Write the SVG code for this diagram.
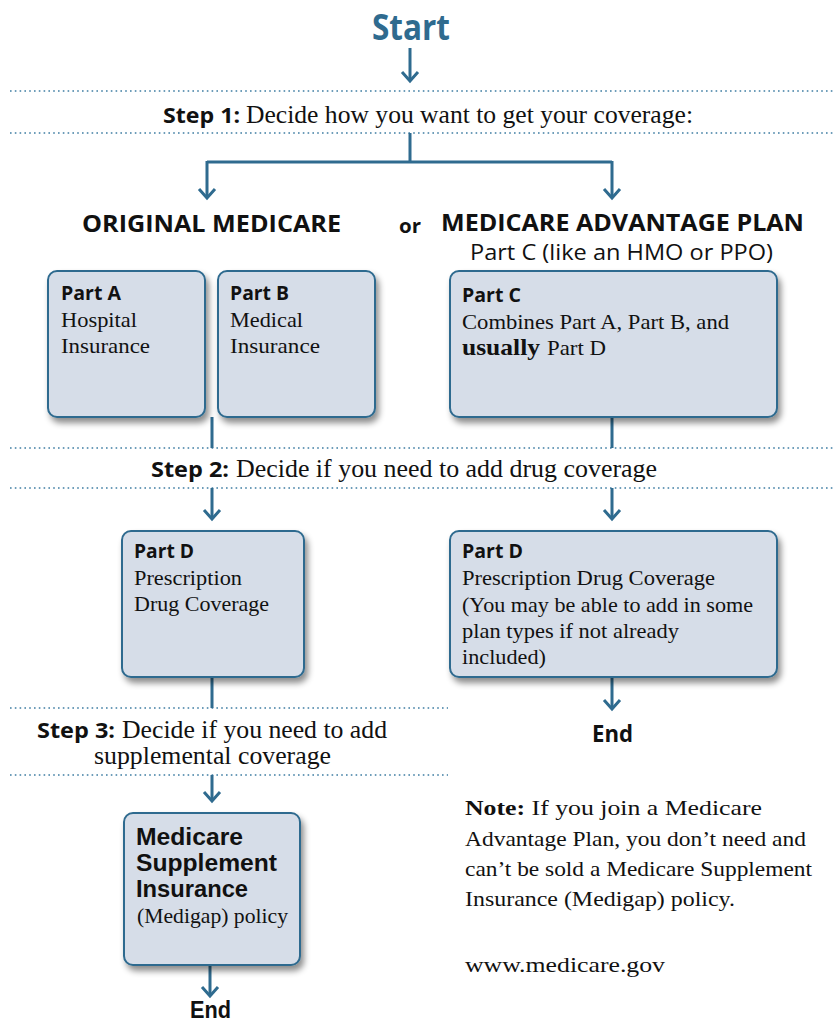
<svg xmlns="http://www.w3.org/2000/svg" width="835" height="1023" viewBox="0 0 835 1023">
<defs>
<filter id="sh" x="-10%" y="-10%" width="130%" height="130%">
<feDropShadow dx="3" dy="5" stdDeviation="3" flood-color="#000" flood-opacity="0.45"/>
</filter>
<style>
.box{fill:#d6dde8;stroke:#2f6b8f;stroke-width:2;filter:url(#sh)}
.ln{fill:none;stroke:#2f6b8f;stroke-width:3}
.ah{fill:none;stroke:#2f6b8f;stroke-width:3;stroke-linejoin:miter}
.dot{stroke:#3f7ea3;stroke-width:1.6;stroke-dasharray:1.6 3.2}
.sb{font-family:"Open Sans","Liberation Sans",sans-serif;font-weight:bold;fill:#111}
.lb{font-family:"Liberation Sans",Arial,sans-serif;font-weight:bold;fill:#111}
.sr{font-family:"Open Sans","Liberation Sans",sans-serif;fill:#111}
.se{font-family:"Liberation Serif",serif;fill:#111}
.h{font-size:19px}
.b{font-size:22px}
.st{font-size:22px}
.sd{font-size:25px}
</style>
</defs>
<rect width="835" height="1023" fill="#fff"/>

<g id="start"><text x="372" y="40" textLength="78" lengthAdjust="spacingAndGlyphs" class="sb" style="fill:#2f6b8f;font-size:35px">Start</text></g>

<g id="dividers">
<line class="dot" x1="10" y1="91" x2="835" y2="91"/>
<line class="dot" x1="10" y1="133" x2="835" y2="133"/>
<line class="dot" x1="10" y1="448" x2="835" y2="448"/>
<line class="dot" x1="10" y1="488" x2="835" y2="488"/>
<line class="dot" x1="10" y1="708" x2="448" y2="708"/>
<line class="dot" x1="10" y1="775" x2="448" y2="775"/>
</g>

<g id="step1">
<text x="163" y="123" textLength="77" lengthAdjust="spacingAndGlyphs" class="sb st">Step 1:</text>
<text x="246" y="123" textLength="447" lengthAdjust="spacingAndGlyphs" class="se sd">Decide how you want to get your coverage:</text>
</g>

<g id="connectors">
<path class="ln" d="M410 48V81"/><path class="ah" d="M402 72L410 81L418 72"/>
<path class="ln" d="M410 133V162M207 162H612M207 161V198M612 161V198"/>
<path class="ah" d="M199 189L207 198L215 189"/><path class="ah" d="M604 189L612 198L620 189"/>
<path class="ln" d="M212 417V448M212 488V519"/><path class="ah" d="M204 510L212 519L220 510"/>
<path class="ln" d="M612 417V448M612 488V519"/><path class="ah" d="M604 510L612 519L620 510"/>
<path class="ln" d="M212 677V708M212 775V801"/><path class="ah" d="M204 792L212 801L220 792"/>
<path class="ln" d="M612 677V709"/><path class="ah" d="M604 700L612 709L620 700"/>
<path class="ln" d="M210 965V996"/><path class="ah" d="M202 987L210 996L218 987"/>
</g>

<g id="orig"><text x="82" y="232" textLength="259" lengthAdjust="spacingAndGlyphs" class="sb" font-size="23">ORIGINAL MEDICARE</text></g>
<g id="or"><text x="399" y="233" textLength="22" lengthAdjust="spacingAndGlyphs" class="sb" font-size="20">or</text></g>
<g id="ma"><text x="441" y="231" textLength="363" lengthAdjust="spacingAndGlyphs" class="sb" font-size="23">MEDICARE ADVANTAGE PLAN</text>
<text x="470" y="260" textLength="303" lengthAdjust="spacingAndGlyphs" class="sr" font-size="22">Part C (like an HMO or PPO)</text></g>

<g id="partA"><rect class="box" x="48" y="271" width="157" height="146" rx="9"/>
<text x="61" y="300" textLength="60" lengthAdjust="spacingAndGlyphs" class="sb h">Part A</text>
<text x="61" y="327" textLength="76" lengthAdjust="spacingAndGlyphs" class="se b">Hospital</text>
<text x="61" y="353" textLength="89" lengthAdjust="spacingAndGlyphs" class="se b">Insurance</text></g>

<g id="partB"><rect class="box" x="218" y="271" width="157" height="146" rx="9"/>
<text x="230" y="300" textLength="59" lengthAdjust="spacingAndGlyphs" class="sb h">Part B</text>
<text x="230" y="327" textLength="73" lengthAdjust="spacingAndGlyphs" class="se b">Medical</text>
<text x="230" y="353" textLength="90" lengthAdjust="spacingAndGlyphs" class="se b">Insurance</text></g>

<g id="partC"><rect class="box" x="450" y="271" width="327" height="146" rx="9"/>
<text x="462" y="302" textLength="59" lengthAdjust="spacingAndGlyphs" class="sb h">Part C</text>
<text x="462" y="329" textLength="267" lengthAdjust="spacingAndGlyphs" class="se b">Combines Part A, Part B, and</text>
<text x="462" y="355" textLength="78" lengthAdjust="spacingAndGlyphs" class="se" font-size="24" font-weight="bold">usually</text>
<text x="547" y="355" textLength="59" lengthAdjust="spacingAndGlyphs" class="se b">Part D</text></g>

<g id="step2">
<text x="151" y="477" textLength="78" lengthAdjust="spacingAndGlyphs" class="sb st">Step 2:</text>
<text x="236" y="477" textLength="421" lengthAdjust="spacingAndGlyphs" class="se sd">Decide if you need to add drug coverage</text>
</g>

<g id="partD1"><rect class="box" x="122" y="531" width="182" height="146" rx="9"/>
<text x="134" y="558" textLength="60" lengthAdjust="spacingAndGlyphs" class="sb h">Part D</text>
<text x="134" y="585" textLength="108" lengthAdjust="spacingAndGlyphs" class="se b">Prescription</text>
<text x="134" y="611" textLength="135" lengthAdjust="spacingAndGlyphs" class="se b">Drug Coverage</text></g>

<g id="partD2"><rect class="box" x="450" y="531" width="327" height="146" rx="9"/>
<text x="462" y="558" textLength="61" lengthAdjust="spacingAndGlyphs" class="sb h">Part D</text>
<text x="462" y="585" textLength="253" lengthAdjust="spacingAndGlyphs" class="se b">Prescription Drug Coverage</text>
<text x="462" y="612" textLength="291" lengthAdjust="spacingAndGlyphs" class="se b">(You may be able to add in some</text>
<text x="462" y="638" textLength="217" lengthAdjust="spacingAndGlyphs" class="se b">plan types if not already</text>
<text x="462" y="664" textLength="84" lengthAdjust="spacingAndGlyphs" class="se b">included)</text></g>

<g id="end1"><text x="592" y="742" textLength="41" lengthAdjust="spacingAndGlyphs" class="sb" font-size="23">End</text></g>

<g id="step3">
<text x="37" y="738" textLength="78" lengthAdjust="spacingAndGlyphs" class="sb st">Step 3:</text>
<text x="122" y="738" textLength="265" lengthAdjust="spacingAndGlyphs" class="se sd">Decide if you need to add</text>
<text x="94" y="764" textLength="237" lengthAdjust="spacingAndGlyphs" class="se sd">supplemental coverage</text>
</g>

<g id="medigap"><rect class="box" x="124" y="813" width="176" height="152" rx="9"/>
<text x="136" y="845" textLength="107" lengthAdjust="spacingAndGlyphs" class="lb" font-size="23">Medicare</text>
<text x="136" y="871" textLength="141" lengthAdjust="spacingAndGlyphs" class="lb" font-size="23">Supplement</text>
<text x="136" y="897" textLength="112" lengthAdjust="spacingAndGlyphs" class="lb" font-size="23">Insurance</text>
<text x="137" y="923" textLength="151" lengthAdjust="spacingAndGlyphs" class="se b">(Medigap) policy</text></g>

<g id="end2"><text x="190" y="1018" textLength="41" lengthAdjust="spacingAndGlyphs" class="lb" font-size="23">End</text></g>

<g id="note">
<text x="465" y="815" textLength="297" lengthAdjust="spacingAndGlyphs" class="se" font-size="22"><tspan font-weight="bold">Note:</tspan> If you join a Medicare</text>
<text x="465" y="846" textLength="341" lengthAdjust="spacingAndGlyphs" class="se" font-size="22">Advantage Plan, you don’t need and</text>
<text x="465" y="876" textLength="347" lengthAdjust="spacingAndGlyphs" class="se" font-size="22">can’t be sold a Medicare Supplement</text>
<text x="465" y="906" textLength="270" lengthAdjust="spacingAndGlyphs" class="se" font-size="22">Insurance (Medigap) policy.</text>
<text x="465" y="972" textLength="200" lengthAdjust="spacingAndGlyphs" class="se" font-size="22">www.medicare.gov</text>
</g>
</svg>
